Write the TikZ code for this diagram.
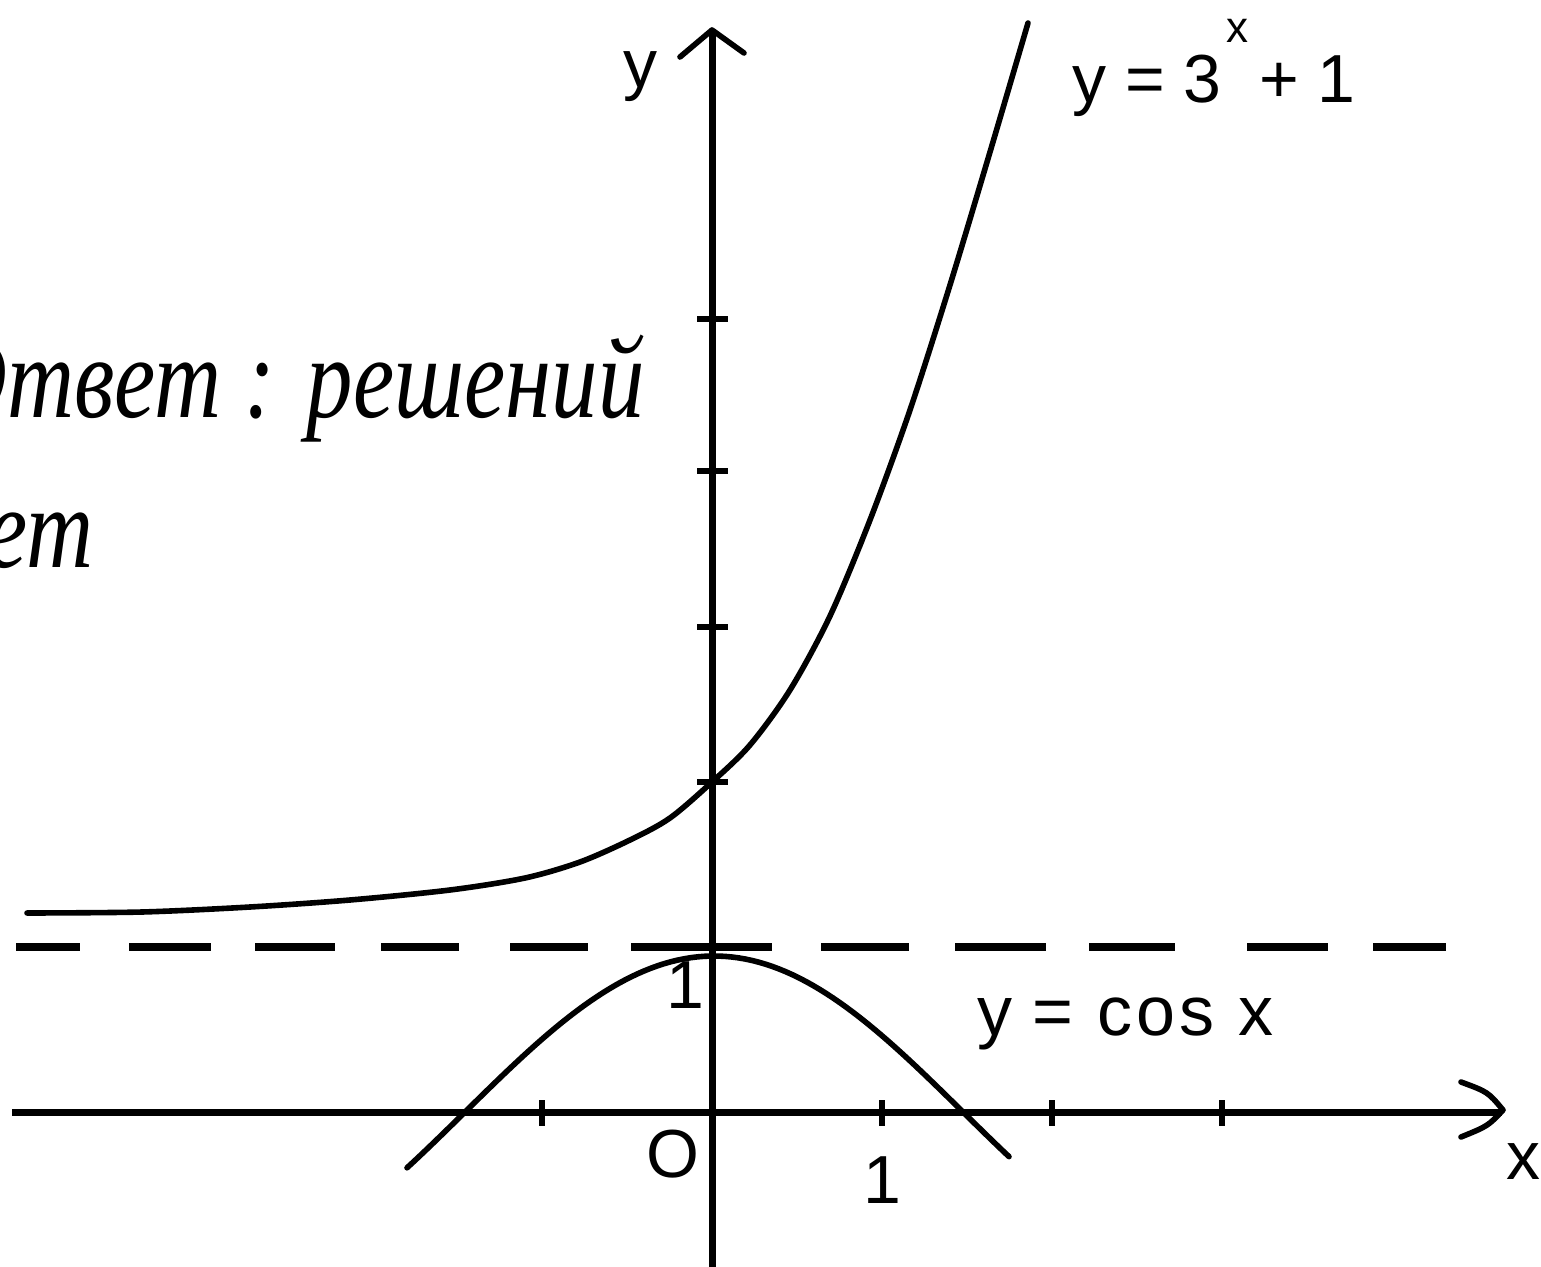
\documentclass[tikz,border=0pt]{standalone}
\usepackage{fontspec}
\usepackage{graphicx}
\setmainfont{Liberation Serif}
\newfontfamily\lsans{Liberation Sans}
\begin{document}
\begin{tikzpicture}[x=0.5pt,y=-0.5pt,
  axis/.style={line width=3.5pt},
  headline/.style={line width=2.8pt, line join=round, line cap=round},
  curve/.style={line width=2.8pt, line join=round, line cap=round},
  tickmark/.style={line width=3pt},
  dashseg/.style={line width=3.6pt},
  lab/.style={font=\lsans\fontsize{34}{40}\selectfont, inner sep=0pt},
  labc/.style={font=\lsans\fontsize{35}{40}\selectfont, inner sep=0pt},
  sup/.style={font=\lsans\fontsize{22}{26}\selectfont, inner sep=0pt},
  ans/.style={font=\itshape\fontsize{58}{68}\selectfont, inner sep=0pt}]
\useasboundingbox (0,0) rectangle (1541,1267);
\clip (0,0) rectangle (1541,1267);
% answer text
\node[ans, anchor=base east] (ans1) at (645,417) {\scalebox{0.8}[1]{Ответ : решений}};
\path (ans1.base west) ++(0,150) node[ans, anchor=base west] (ans2) {\scalebox{0.8}[1]{нет}};
% axes
\coordinate (xs) at (12,1112);
\coordinate (xe) at (1502,1112);
\coordinate (ys) at (712,1275);
\coordinate (ye) at (712,32);
\draw[axis] (xs) -- (xe);
\draw[axis] (ys) -- (ye);
% arrow heads
\coordinate (ya1) at (680,57);
\coordinate (ya2) at (744,53);
\coordinate (xa1) at (1461,1082);
\coordinate (xa2) at (1461,1137);
\draw[headline] (ya1) -- (712,30) -- (ya2);
\draw[headline] (xa1) .. controls (1488,1092) .. (1503,1110) .. controls (1488,1126) .. (xa2);
% ticks
\foreach \t in {542,882,1052,1222} \draw[tickmark] (\t,1100) -- (\t,1126);
\foreach \t in {319,471,627,782} \draw[tickmark] (697,\t) -- (728,\t);
% dashed line y=1
\foreach \a/\b in {16/80,129/211,255/335,381/459,510/588,631/772,821/909,955/1046,1089/1175,1247/1328,1373/1446}
  \draw[dashseg] (\a,947) -- (\b,947);
% y = cos x
\draw[curve] plot[domain=-307:295, samples=90] ({714+\x}, {1112 - 156*cos(0.36145*\x)});
% y = 3^x + 1
\draw[curve] plot[smooth] coordinates {(27,913) (142,912) (250,907) (350,900) (450,890) (525,878) (580,862) (630,840) (670,818) (712,782) (750,745) (790,690) (830,616) (870,520) (910,410) (950,285) (990,152) (1028,23)};
% labels
\node[lab, anchor=base] (ylab) at (640,88) {y};
\node[lab, anchor=base west] (f1) at (1072,103) {y = 3};
\node[sup, anchor=base west] (f1x) at (1226,43) {x};
\node[lab, anchor=base west] (f1b) at (1259,103) {+ 1};
\node[labc, anchor=base west] (f2) at (977,1035) {y\hspace{10pt}=\hspace{12pt}c\kern2pt o\kern2pt s\hspace{12pt}x};
\node[lab] (one1) at (685,985) {1};
\node[lab] (orig) at (673,1154) {O};
\node[lab] (one2) at (882,1180) {1};
\node[lab] (xlab) at (1523,1162) {x};
\end{tikzpicture}
\end{document}
